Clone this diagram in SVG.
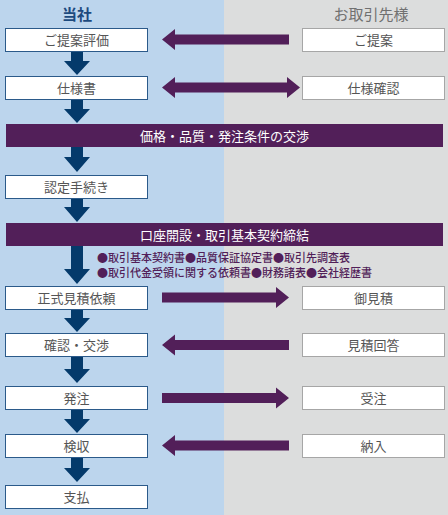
<svg xmlns="http://www.w3.org/2000/svg" width="448" height="515" viewBox="0 0 448 515">
<style>
.lbox{fill:#fff;stroke:#2b5a8a;stroke-width:1}
.rbox{fill:#fff;stroke:#a6a6a6;stroke-width:1}
.bt{font-family:"Noto Sans CJK JP","Noto Sans",sans-serif;font-size:13px;fill:#555;text-anchor:middle}
.ban{fill:#521f59}
.bant{font-family:"Noto Sans CJK JP","Noto Sans",sans-serif;font-size:13px;fill:#fff;text-anchor:middle;font-weight:normal}
.down{fill:#043a6b}
.h{fill:#521f59}
.note{font-family:"Noto Sans CJK JP","Noto Sans",sans-serif;font-size:11px;fill:#521f59;font-weight:500}
</style>
<rect x="0" y="0" width="224" height="515" fill="#bcd5ed"/>
<rect x="224" y="0" width="224" height="515" fill="#dcdddd"/>
<text x="77" y="19.5" font-family="'Noto Sans CJK JP',sans-serif" font-size="15" font-weight="bold" fill="#1c4a7e" text-anchor="middle">当社</text>
<text x="371" y="19.5" font-family="'Noto Sans CJK JP',sans-serif" font-size="15" fill="#707070" text-anchor="middle">お取引先様</text>

<g id="connectors">
<path class="down" d="M71,52 H83 V61 H90 L77,75 L64,61 H71 Z"/>
<path class="down" d="M71,100 H83 V109 H90 L77,123 L64,109 H71 Z"/>
<path class="down" d="M71,147 H83 V157 H90 L77,172 L64,157 H71 Z"/>
<path class="down" d="M71,199 H83 V207 H90 L77,222 L64,207 H71 Z"/>
<path class="down" d="M71,246 H83 V269 H90 L77,284 L64,269 H71 Z"/>
<path class="down" d="M71,309 H83 V318 H90 L77,332 L64,318 H71 Z"/>
<path class="down" d="M71,357 H83 V369 H90 L77,383 L64,369 H71 Z"/>
<path class="down" d="M71,410 H83 V419 H90 L77,433 L64,419 H71 Z"/>
<path class="down" d="M71,457 H83 V468 H90 L77,482 L64,468 H71 Z"/>
<path class="h" d="M162,39.5 L175,29 V34.5 H289 V44.5 H175 V50 Z"/>
<path class="h" d="M162,87.5 L175,77 V82.5 H287 V77 L300,87.5 L287,98 V92.5 H175 V98 Z"/>
<path class="h" d="M289,297.5 L276,287 V292.5 H162 V302.5 H276 V308 Z"/>
<path class="h" d="M162,345 L175,334.5 V340 H289 V350 H175 V355.5 Z"/>
<path class="h" d="M289,398 L276,387.5 V393 H162 V403 H276 V408.5 Z"/>
<path class="h" d="M162,445.5 L175,435 V440.5 H289 V450.5 H175 V456 Z"/>
</g>

<g id="n1"><rect class="lbox" x="5.5" y="28.5" width="142" height="23"/><text class="bt" x="76.5" y="45">ご提案評価</text></g>
<g id="n2"><rect class="rbox" x="302.5" y="28.5" width="142" height="23"/><text class="bt" x="373.5" y="45">ご提案</text></g>
<g id="n3"><rect class="lbox" x="5.5" y="76.5" width="142" height="23"/><text class="bt" x="76.5" y="93">仕様書</text></g>
<g id="n4"><rect class="rbox" x="302.5" y="76.5" width="142" height="23"/><text class="bt" x="373.5" y="93">仕様確認</text></g>
<g id="n5"><rect class="ban" x="6" y="124" width="437" height="23"/><text class="bant" x="224.5" y="140.5">価格・品質・発注条件の交渉</text></g>
<g id="n6"><rect class="lbox" x="5.5" y="175.5" width="142" height="23"/><text class="bt" x="76.5" y="192">認定手続き</text></g>
<g id="n7"><rect class="ban" x="6" y="223" width="437" height="23"/><text class="bant" x="224.5" y="239.5">口座開設・取引基本契約締結</text></g>
<g id="n8"><text class="note" x="97" y="262">●取引基本契約書●品質保証協定書●取引先調査表</text><text class="note" x="97" y="277">●取引代金受領に関する依頼書●財務諸表●会社経歴書</text></g>
<g id="n9"><rect class="lbox" x="5.5" y="286.5" width="142" height="23"/><text class="bt" x="76.5" y="303">正式見積依頼</text></g>
<g id="n10"><rect class="rbox" x="302.5" y="286.5" width="142" height="23"/><text class="bt" x="373.5" y="303">御見積</text></g>
<g id="n11"><rect class="lbox" x="5.5" y="333.5" width="142" height="23"/><text class="bt" x="76.5" y="350">確認・交渉</text></g>
<g id="n12"><rect class="rbox" x="302.5" y="333.5" width="142" height="23"/><text class="bt" x="373.5" y="350">見積回答</text></g>
<g id="n13"><rect class="lbox" x="5.5" y="386.5" width="142" height="23"/><text class="bt" x="76.5" y="403">発注</text></g>
<g id="n14"><rect class="rbox" x="302.5" y="386.5" width="142" height="23"/><text class="bt" x="373.5" y="403">受注</text></g>
<g id="n15"><rect class="lbox" x="5.5" y="434.5" width="142" height="23"/><text class="bt" x="76.5" y="451">検収</text></g>
<g id="n16"><rect class="rbox" x="302.5" y="434.5" width="142" height="23"/><text class="bt" x="373.5" y="451">納入</text></g>
<g id="n17"><rect class="lbox" x="5.5" y="485.5" width="142" height="23"/><text class="bt" x="76.5" y="502">支払</text></g>
</svg>
